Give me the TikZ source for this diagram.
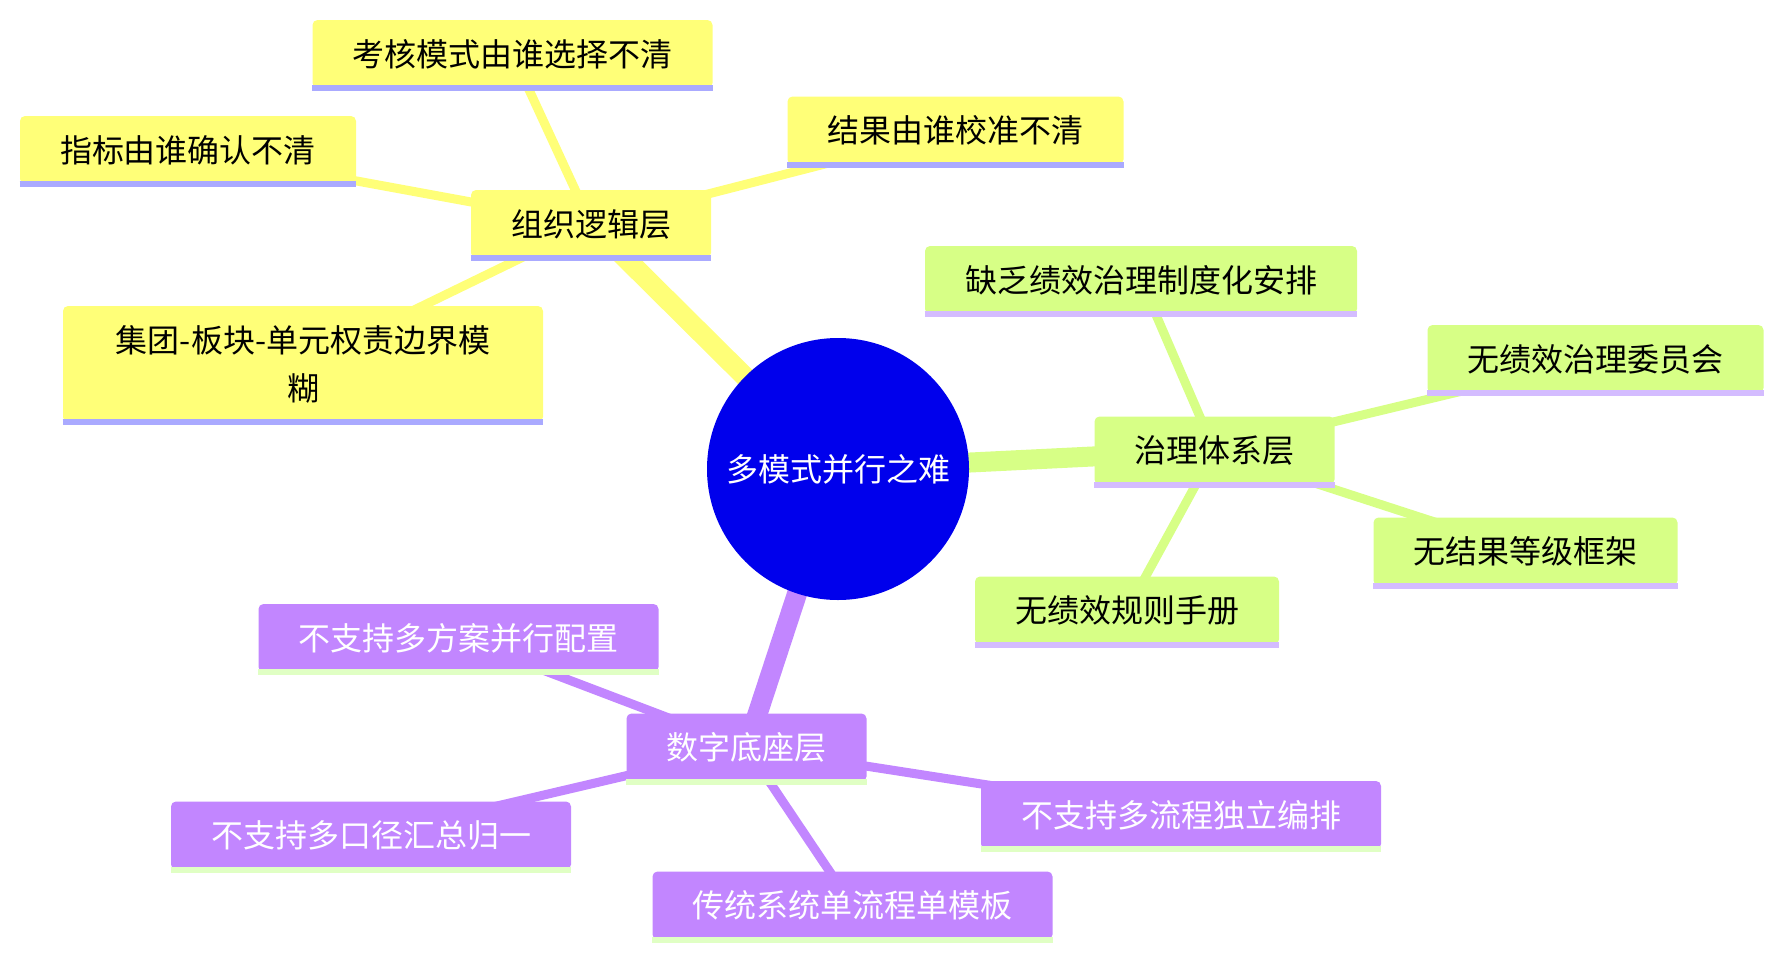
\documentclass[tikz,border=0pt]{standalone}
\usepackage{fontspec}
\newfontfamily\cjk{Noto Sans CJK SC}
\usetikzlibrary{backgrounds}
\definecolor{rootblue}{RGB}{0,0,236}
\definecolor{yfill}{RGB}{255,255,120}
\definecolor{yline}{RGB}{170,170,255}
\definecolor{gfill}{RGB}{215,255,134}
\definecolor{gline}{RGB}{212,188,255}
\definecolor{pfill}{RGB}{194,134,255}
\definecolor{pline}{RGB}{224,255,196}

\begin{document}
\begin{tikzpicture}[x=0.5pt,y=-0.5pt,
  every node/.style={font=\cjk\fontsize{16pt}{24pt}\selectfont},
  box/.style 2 args={fill=#1, rounded corners=2.5pt, inner xsep=20pt, inner ysep=0pt,
    minimum height=34pt, yshift=-0.75pt, align=center,
    append after command={(\tikzlastnode.south west) edge[draw=#2, line width=3pt, sharp corners] (\tikzlastnode.south east)}},
  ybox/.style={box={yfill}{yline}},
  gbox/.style={box={gfill}{gline}},
  pbox/.style={box={pfill}{pline}, text=white},
  trunk/.style={draw=#1, line width=10pt},
  twig/.style={draw=#1, line width=4.5pt}]
  \useasboundingbox (0,0) rectangle (1783,959);

  % root
  \node[circle, fill=rootblue, text=white, minimum size=131pt, inner sep=0pt] (root) at (838,469) {多模式并行之难};

  % organisation
  \node[ybox] (org) at (591,222.5) {组织逻辑层};
  \node[ybox] (orgmode) at (512.5,52.5) {考核模式由谁选择不清};
  \node[ybox] (orgkpi) at (188,148.5) {指标由谁确认不清};
  \node[ybox] (orgcal) at (955.5,129) {结果由谁校准不清};
  \node[ybox, minimum height=58pt, minimum width=240pt] (orgbound) at (303,362.5) {集团-板块-单元权责边界模\\糊};

  % governance
  \node[gbox] (gov) at (1214.5,449) {治理体系层};
  \node[gbox] (govinst) at (1141,278.5) {缺乏绩效治理制度化安排};
  \node[gbox] (govcomm) at (1595.5,357.5) {无绩效治理委员会};
  \node[gbox] (govgrade) at (1525.5,550) {无结果等级框架};
  \node[gbox] (govbook) at (1127,609) {无绩效规则手册};

  % digital base
  \node[pbox] (dig) at (746.5,746) {数字底座层};
  \node[pbox] (digplan) at (458.5,636.5) {不支持多方案并行配置};
  \node[pbox] (digsum) at (371,834) {不支持多口径汇总归一};
  \node[pbox] (digflow) at (1181,813.5) {不支持多流程独立编排};
  \node[pbox] (digtpl) at (852.5,904) {传统系统单流程单模板};

  \begin{scope}[on background layer]
    \draw[trunk=yfill] (root.center) -- (org.center);
    \draw[trunk=gfill] (root.center) -- (gov.center);
    \draw[trunk=pfill] (root.center) -- (dig.center);
    \foreach \n in {orgmode,orgkpi,orgcal,orgbound}
      \draw[twig=yfill] (org.center) -- (\n.center);
    \foreach \n in {govinst,govcomm,govgrade,govbook}
      \draw[twig=gfill] (gov.center) -- (\n.center);
    \foreach \n in {digplan,digsum,digflow,digtpl}
      \draw[twig=pfill] (dig.center) -- (\n.center);
  \end{scope}
\end{tikzpicture}
\end{document}
